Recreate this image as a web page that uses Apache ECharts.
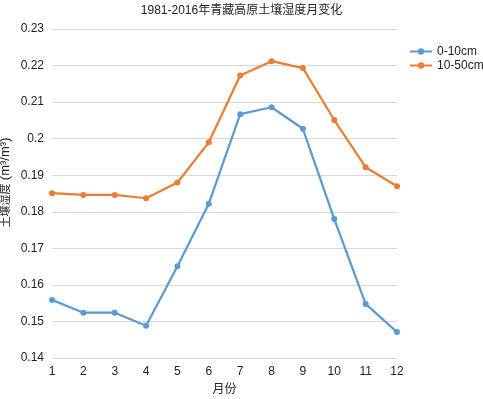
<!DOCTYPE html>
<html>
<head>
<meta charset="utf-8">
<script src="https://cdn.jsdelivr.net/npm/echarts@6/dist/echarts.min.js"></script>
<style>
  html, body { margin: 0; padding: 0; background: #fff; }
  #chart { width: 483px; height: 399px; }
</style>
</head>
<body>
<div id="chart"></div>
<script>
const months = ['1', '2', '3', '4', '5', '6', '7', '8', '9', '10', '11', '12']
const shallow = [0.1559, 0.1524, 0.1524, 0.1488, 0.1651, 0.1822, 0.2067, 0.2086, 0.2027, 0.1780, 0.1548, 0.1471]
const deep = [0.1851, 0.1846, 0.1846, 0.1837, 0.1880, 0.1990, 0.2173, 0.2212, 0.2193, 0.2051, 0.1922, 0.1870]

const font = 'Liberation Sans, Arial, "Noto Sans CJK SC", sans-serif'
const chart = echarts.init(document.getElementById('chart'))

const option = {
  animation: false,
  textStyle: { fontFamily: font },
  title: {
    text: '1981-2016年青藏高原土壤湿度月变化',
    left: 'center',
    top: 5,
    padding: 0,
    textStyle: { fontSize: 12, fontWeight: 'normal', color: '#222', fontFamily: font }
  },
  legend: {
    orient: 'vertical',
    left: 409,
    top: 45,
    padding: 0,
    itemWidth: 22,
    itemHeight: 8,
    itemGap: 1,
    textStyle: { fontSize: 12, color: '#222', lineHeight: 13 },
    data: ['0-10cm', '10-50cm']
  },
  grid: {
    left: 52,
    right: 86,
    top: 29,
    bottom: 41,
    outerBoundsMode: 'none'
  },
  xAxis: {
    type: 'category',
    boundaryGap: false,
    data: months,
    name: '月份',
    nameLocation: 'middle',
    nameGap: 26,
    nameTextStyle: { fontSize: 12, color: '#222' },
    axisLine: { show: false },
    axisTick: { show: false },
    axisLabel: { fontSize: 12, color: '#222', margin: 8 }
  },
  yAxis: {
    type: 'value',
    min: 0.14,
    max: 0.23,
    interval: 0.01,
    name: '{a|土壤湿度} {b|(m³/m³)}',
    nameLocation: 'middle',
    nameGap: 40,
    nameMoveOverlap: false,
    nameTextStyle: {
      color: '#222',
      padding: [0, 0, 0, 22],
      rich: {
        a: { fontSize: 11, color: '#222' },
        b: { fontSize: 13, color: '#222' }
      }
    },
    axisLine: { show: false },
    axisTick: { show: false },
    axisLabel: { fontSize: 12, color: '#222', margin: 8 },
    splitLine: { lineStyle: { color: '#d9d9d9', width: 1 } }
  },
  series: [
    {
      name: '0-10cm',
      type: 'line',
      data: shallow,
      symbol: 'circle',
      symbolSize: 6,
      itemStyle: { color: '#5b9bd5' },
      lineStyle: { color: '#5b9bd5', width: 2.25 }
    },
    {
      name: '10-50cm',
      type: 'line',
      data: deep,
      symbol: 'circle',
      symbolSize: 6,
      itemStyle: { color: '#ed7d31' },
      lineStyle: { color: '#ed7d31', width: 2.25 }
    }
  ]
}
chart.setOption(option)
</script>
</body>
</html>
